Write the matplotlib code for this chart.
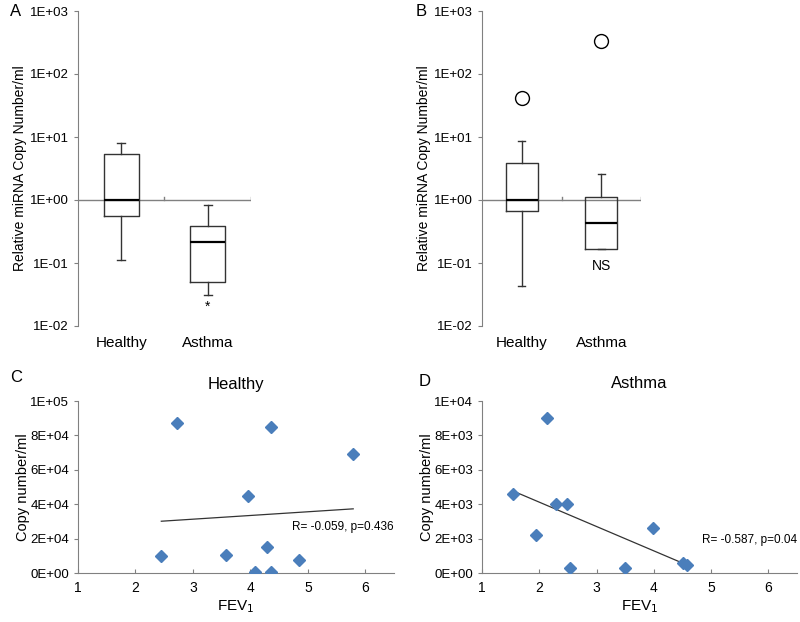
import numpy as np
import matplotlib
matplotlib.use("Agg")
import matplotlib.pyplot as plt
from matplotlib.ticker import FuncFormatter, FixedLocator

# Datos de los diagramas de caja (A y B): whisker bajo, Q1, mediana, Q3, whisker alto
grupos = ["Healthy", "Asthma"]
caja_a_healthy = [0.11, 0.55, 1.0, 5.3, 8.0]
caja_a_asthma = [0.031, 0.050, 0.215, 0.386, 0.83]
caja_b_healthy = [0.043, 0.67, 1.0, 3.9, 8.6]
caja_b_asthma = [0.165, 0.167, 0.43, 1.12, 2.6]
outliers_b_healthy = [41]
outliers_b_asthma = [330]

# Datos de dispersión (C y D)
fev_healthy = [2.45, 2.72, 4.36, 5.79, 3.96, 3.57, 4.29, 4.85, 4.08, 4.36]
copias_healthy = [10000, 87300, 84900, 69300, 45000, 10600, 14900, 7700, 800, 800]
fev_asthma = [1.54, 2.14, 1.95, 2.30, 2.49, 2.53, 3.49, 3.98, 4.51, 4.58]
copias_asthma = [4610, 9030, 2200, 4020, 4000, 270, 270, 2630, 600, 460]

# Líneas de tendencia
tend_healthy_x = [2.45, 5.79]
tend_healthy_y = [30100, 37300]
tend_asthma_x = [1.54, 4.57]
tend_asthma_y = [4770, 480]

plt.rcParams['font.family'] = ['Liberation Sans', 'DejaVu Sans']
gris = '#808080'
azul = '#4a7ebb'

fig = plt.figure(figsize=(8, 6.22), dpi=100)


def caja(valores, outliers):
    lo, q1, med, q3, hi = valores
    return dict(whislo=lo, q1=q1, med=med, q3=q3, whishi=hi, fliers=outliers)


def panel_caja(ax, stats, etiqueta_sig, y_sig):
    ax.bxp(stats, positions=[1, 2], widths=0.4, capwidths=0.09,
           boxprops=dict(color='#333333', lw=1.0),
           whiskerprops=dict(color='#333333', lw=1.0),
           capprops=dict(color='#333333', lw=1.0),
           medianprops=dict(color='black', lw=1.6),
           flierprops=dict(marker='o', markerfacecolor='white',
                           markeredgecolor='black', markersize=10, mew=1.0))
    ax.set_yscale('log')
    ax.set_ylim(1e-2, 1e3)
    ax.set_xlim(0.5, 2.5)
    ax.yaxis.set_major_locator(FixedLocator([1e-2, 1e-1, 1, 1e1, 1e2, 1e3]))
    ax.yaxis.set_minor_locator(FixedLocator([]))
    ax.yaxis.set_major_formatter(FuncFormatter(lambda v, p: f"{v:.0E}"))
    for s in ['top', 'right', 'bottom']:
        ax.spines[s].set_visible(False)
    ax.spines['left'].set_color(gris)
    ax.tick_params(axis='y', colors=gris, labelcolor='black', labelsize=9.5, length=3)
    ax.set_xticks([1, 2])
    ax.set_xticklabels(grupos, fontsize=11)
    ax.tick_params(axis='x', length=0, pad=7)
    # eje de categorías cruzando en 1
    ax.plot([0.5, 2.5], [1, 1], color=gris, lw=1.0, zorder=1)
    for xt in [1.5, 2.5]:
        ax.plot([xt, xt], [1, 1.12], color=gris, lw=1.0, zorder=1)
    ax.text(2, y_sig, etiqueta_sig, ha='center', va='center', fontsize=10)
    ax.set_ylabel("Relative miRNA Copy Number/ml", fontsize=10, labelpad=2)


ax_a = fig.add_axes([78 / 800, 1 - 326 / 622, 173 / 800, 315 / 622])
panel_caja(ax_a, [caja(caja_a_healthy, []), caja(caja_a_asthma, [])], "*", 0.020)

ax_b = fig.add_axes([482 / 800, 1 - 326 / 622, 159 / 800, 315 / 622])
panel_caja(ax_b, [caja(caja_b_healthy, outliers_b_healthy),
                  caja(caja_b_asthma, outliers_b_asthma)], "NS", 0.088)


def panel_disp(ax, x, y, tx, ty, ymax, titulo, texto, tx_pos, ty_pos):
    ax.plot(x, y, 'D', color=azul, markersize=6, zorder=3)
    ax.plot(tx, ty, color='#333333', lw=0.9, zorder=2)
    ax.set_xlim(1, 6.5)
    ax.set_ylim(0, ymax)
    ax.set_xticks([1, 2, 3, 4, 5, 6])
    ax.set_yticks(np.linspace(0, ymax, 6))
    ax.yaxis.set_major_formatter(FuncFormatter(lambda v, p: f"{v:.0E}"))
    for s in ['top', 'right']:
        ax.spines[s].set_visible(False)
    for s in ['left', 'bottom']:
        ax.spines[s].set_color(gris)
    ax.tick_params(axis='y', colors=gris, labelcolor='black', labelsize=9.5, length=3)
    ax.tick_params(axis='x', colors=gris, labelcolor='black', labelsize=10,
                   length=3, direction='in', pad=6)
    ax.set_xlabel("FEV$_1$", fontsize=11, labelpad=2)
    ax.set_ylabel("Copy number/ml", fontsize=10.5, labelpad=0)
    ax.set_title(titulo, fontsize=12, pad=9)
    ax.text(tx_pos, ty_pos, texto, ha='right', va='center', fontsize=8.5)


ax_c = fig.add_axes([78 / 800, 1 - 573 / 622, 316 / 800, 172 / 622])
panel_disp(ax_c, fev_healthy, copias_healthy, tend_healthy_x, tend_healthy_y,
           1e5, "Healthy", "R= -0.059, p=0.436", 6.5, 27000)

ax_d = fig.add_axes([482 / 800, 1 - 573 / 622, 315 / 800, 172 / 622])
panel_disp(ax_d, fev_asthma, copias_asthma, tend_asthma_x, tend_asthma_y,
           1e4, "Asthma", "R= -0.587, p=0.04", 6.5, 1930)

# Letras de los paneles
fig.text(10 / 800, 1 - 12 / 622, "A", fontsize=12, va='center')
fig.text(416 / 800, 1 - 12 / 622, "B", fontsize=12, va='center')
fig.text(10 / 800, 1 - 377 / 622, "C", fontsize=12, va='center')
fig.text(419 / 800, 1 - 382 / 622, "D", fontsize=12, va='center')

fig.savefig("out.png", dpi=100)
